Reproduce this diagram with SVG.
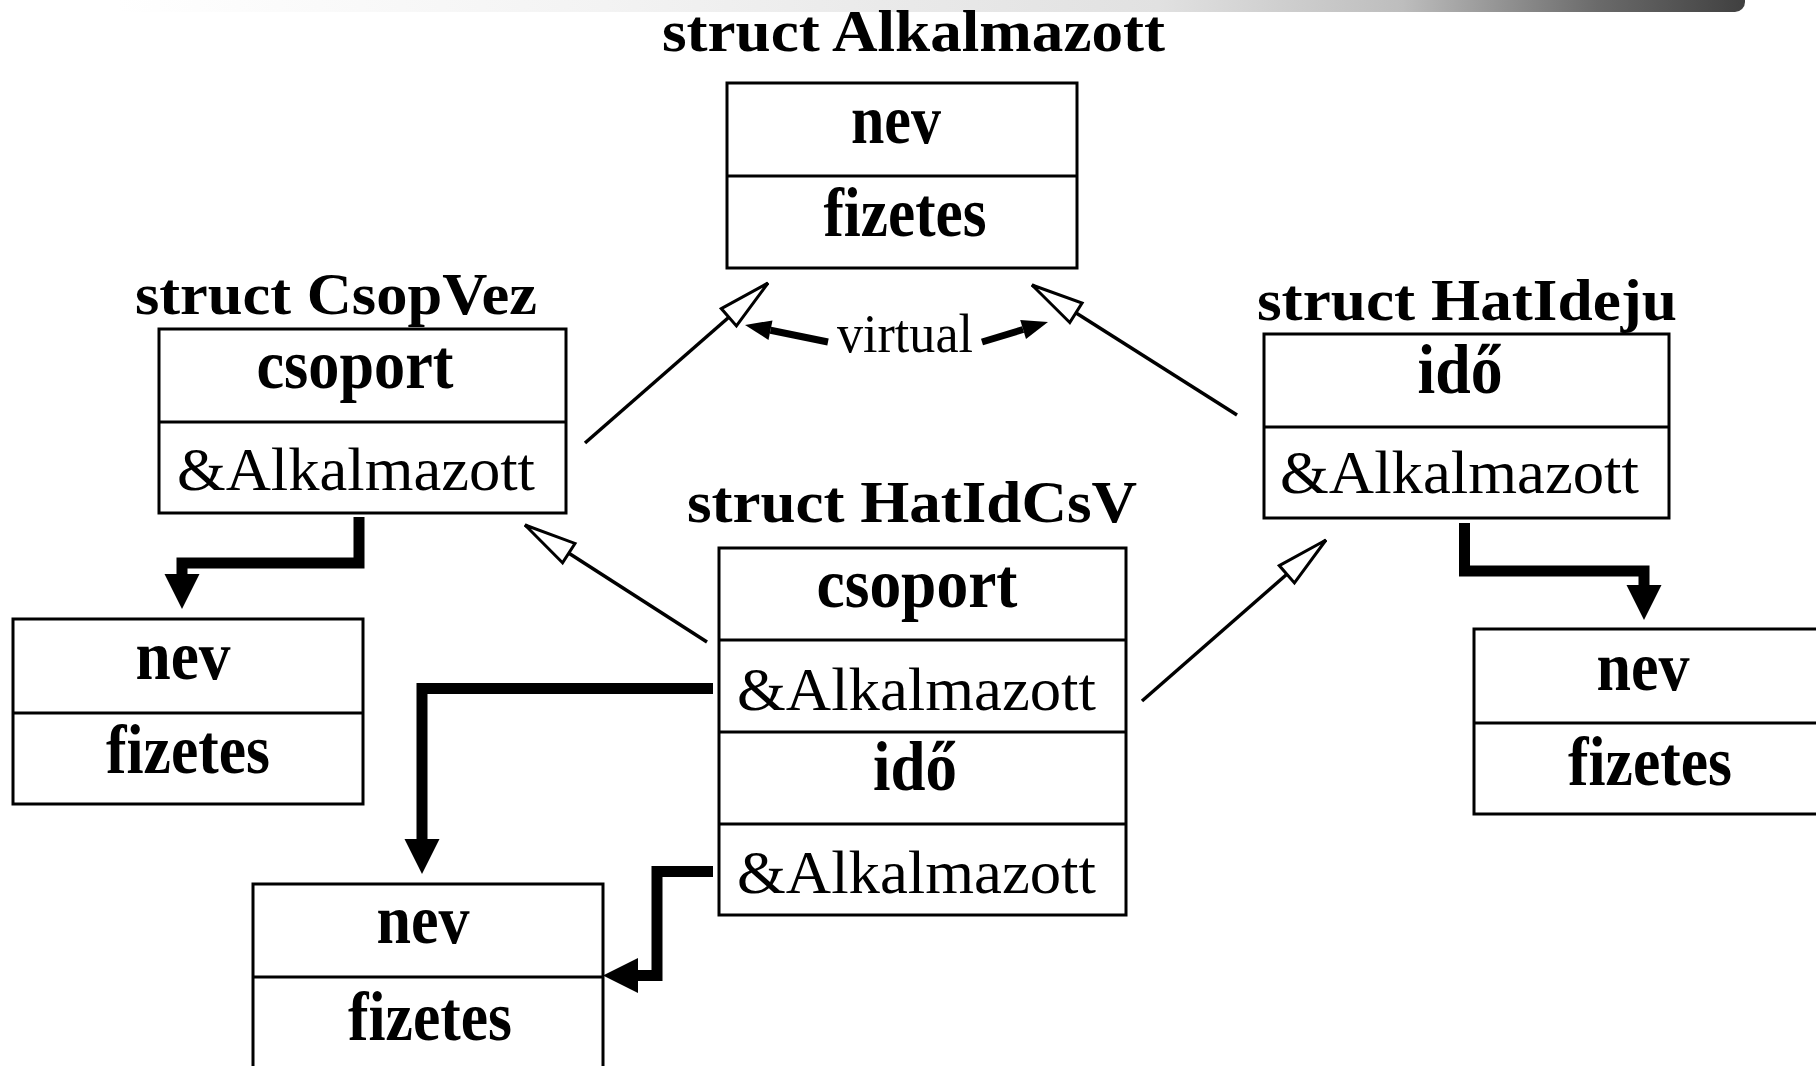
<svg xmlns="http://www.w3.org/2000/svg" width="1816" height="1066" viewBox="0 0 1816 1066">
  <style>
    .box { fill: #ffffff; stroke: #000000; stroke-width: 3; }
    .sep { stroke: #000000; stroke-width: 3; }
    .title { font-family: "Liberation Serif", "Times New Roman", serif; font-weight: bold; font-size: 60px; fill: #000; }
    .field { font-family: "Liberation Serif", "Times New Roman", serif; font-weight: bold; font-size: 69px; fill: #000; text-anchor: middle; }
    .ref { font-family: "Liberation Serif", "Times New Roman", serif; font-size: 61px; fill: #000; }
    .label { font-family: "Liberation Serif", "Times New Roman", serif; font-size: 54px; fill: #000; text-anchor: middle; }
    .inherit { fill: none; stroke: #000; stroke-width: 3.5; marker-end: url(#hollow); }
    .pointer { fill: none; stroke: #000; stroke-width: 11; stroke-linejoin: miter; marker-end: url(#solidBig); }
    .virt { fill: none; stroke: #000; stroke-width: 7; marker-end: url(#solidSmall); }
  </style>
  <defs>
    <linearGradient id="barGrad" x1="116" y1="0" x2="1745" y2="0" gradientUnits="userSpaceOnUse">
      <stop offset="0" stop-color="#ffffff"/>
      <stop offset="0.3" stop-color="#f3f3f3"/>
      <stop offset="0.64" stop-color="#e1e1e1"/>
      <stop offset="0.79" stop-color="#bdbdbd"/>
      <stop offset="0.91" stop-color="#6a6a6a"/>
      <stop offset="1" stop-color="#404040"/>
    </linearGradient>
    <!-- open triangle: inheritance -->
    <marker id="hollow" markerUnits="userSpaceOnUse" markerWidth="60" markerHeight="34" refX="52" refY="15" orient="auto" overflow="visible">
      <path d="M0,3.5 L52,15 L0,26.5 Z" fill="#fff" stroke="#000" stroke-width="3" stroke-linejoin="miter"/>
    </marker>
    <!-- filled head for the reference pointers; placed at the base of the head -->
    <marker id="solidBig" markerUnits="userSpaceOnUse" markerWidth="40" markerHeight="40" refX="0" refY="17.5" orient="auto" overflow="visible">
      <path d="M0,0 L35,17.5 L0,35 Z" fill="#000"/>
    </marker>
    <marker id="solidSmall" markerUnits="userSpaceOnUse" markerWidth="30" markerHeight="24" refX="0" refY="10" orient="auto" overflow="visible">
      <path d="M0,0 L26,10 L0,20 Z" fill="#000"/>
    </marker>
  </defs>

  <rect width="1816" height="1066" fill="#ffffff"/>

  <!-- header bar -->
  <path d="M116,-2 H1745 V2 A10,10 0 0 1 1735,12 H116 Z" fill="url(#barGrad)"/>

  <!-- base struct -->
  <g id="alkalmazott">
    <text class="title" x="662" y="51" textLength="503" lengthAdjust="spacingAndGlyphs">struct Alkalmazott</text>
    <rect class="box" x="727" y="83" width="350" height="185"/>
    <line class="sep" x1="727" y1="176" x2="1077" y2="176"/>
    <text class="field" x="896" y="143" textLength="90" lengthAdjust="spacingAndGlyphs">nev</text>
    <text class="field" x="905" y="236" textLength="163" lengthAdjust="spacingAndGlyphs">fizetes</text>
  </g>

  <g id="csopvez">
    <text class="title" x="135" y="314" textLength="402" lengthAdjust="spacingAndGlyphs">struct CsopVez</text>
    <rect class="box" x="159" y="329" width="407" height="184"/>
    <line class="sep" x1="159" y1="422" x2="566" y2="422"/>
    <text class="field" x="355" y="388" textLength="197" lengthAdjust="spacingAndGlyphs">csoport</text>
    <text class="ref" x="177" y="490" textLength="358" lengthAdjust="spacingAndGlyphs">&amp;Alkalmazott</text>
  </g>

  <g id="hatideju">
    <text class="title" x="1257" y="320" textLength="420" lengthAdjust="spacingAndGlyphs">struct HatIdeju</text>
    <rect class="box" x="1264" y="334" width="405" height="184"/>
    <line class="sep" x1="1264" y1="427" x2="1669" y2="427"/>
    <text class="field" x="1460" y="393" textLength="85" lengthAdjust="spacingAndGlyphs">idő</text>
    <text class="ref" x="1280" y="493" textLength="359" lengthAdjust="spacingAndGlyphs">&amp;Alkalmazott</text>
  </g>

  <g id="hatidcsv">
    <text class="title" x="687" y="522" textLength="450" lengthAdjust="spacingAndGlyphs">struct HatIdCsV</text>
    <rect class="box" x="719" y="548" width="407" height="367"/>
    <line class="sep" x1="719" y1="640" x2="1126" y2="640"/>
    <line class="sep" x1="719" y1="732" x2="1126" y2="732"/>
    <line class="sep" x1="719" y1="824" x2="1126" y2="824"/>
    <text class="field" x="917" y="607" textLength="201" lengthAdjust="spacingAndGlyphs">csoport</text>
    <text class="ref" x="737" y="710" textLength="359" lengthAdjust="spacingAndGlyphs">&amp;Alkalmazott</text>
    <text class="field" x="915" y="790" textLength="84" lengthAdjust="spacingAndGlyphs">idő</text>
    <text class="ref" x="737" y="893" textLength="359" lengthAdjust="spacingAndGlyphs">&amp;Alkalmazott</text>
  </g>

  <!-- embedded Alkalmazott sub-objects -->
  <g id="csopvez-alk">
    <rect class="box" x="13" y="619" width="350" height="185"/>
    <line class="sep" x1="13" y1="713" x2="363" y2="713"/>
    <text class="field" x="183" y="679" textLength="95" lengthAdjust="spacingAndGlyphs">nev</text>
    <text class="field" x="188" y="773" textLength="164" lengthAdjust="spacingAndGlyphs">fizetes</text>
  </g>

  <g id="hatideju-alk">
    <rect class="box" x="1474" y="629" width="360" height="185"/>
    <line class="sep" x1="1474" y1="723" x2="1834" y2="723"/>
    <text class="field" x="1643" y="690" textLength="93" lengthAdjust="spacingAndGlyphs">nev</text>
    <text class="field" x="1650" y="785" textLength="164" lengthAdjust="spacingAndGlyphs">fizetes</text>
  </g>

  <g id="hatidcsv-alk">
    <rect class="box" x="253" y="884" width="350" height="200"/>
    <line class="sep" x1="253" y1="977" x2="603" y2="977"/>
    <text class="field" x="423" y="943" textLength="93" lengthAdjust="spacingAndGlyphs">nev</text>
    <text class="field" x="430" y="1040" textLength="164" lengthAdjust="spacingAndGlyphs">fizetes</text>
  </g>

  <g id="connectors">
    <!-- inheritance -->
    <line class="inherit" x1="585" y1="443" x2="768" y2="283"/>
    <line class="inherit" x1="1237" y1="415" x2="1032" y2="285"/>
    <line class="inherit" x1="707" y1="642" x2="525" y2="525"/>
    <line class="inherit" x1="1142" y1="701" x2="1326" y2="540"/>

    <!-- virtual label arrows -->
    <line class="virt" x1="828" y1="342" x2="770.5" y2="330.2"/>
    <line class="virt" x1="982" y1="342" x2="1023.1" y2="329.5"/>
    <text class="label" x="905" y="352" textLength="136" lengthAdjust="spacingAndGlyphs">virtual</text>

    <!-- reference pointers -->
    <path class="pointer" d="M359,517 V563 H182 V574"/>
    <path class="pointer" d="M1464.5,523 V571 H1644 V585"/>
    <path class="pointer" d="M713,688.5 H422 V839"/>
    <path class="pointer" d="M713,871.5 H657 V975.5 H638"/>
  </g>
</svg>
